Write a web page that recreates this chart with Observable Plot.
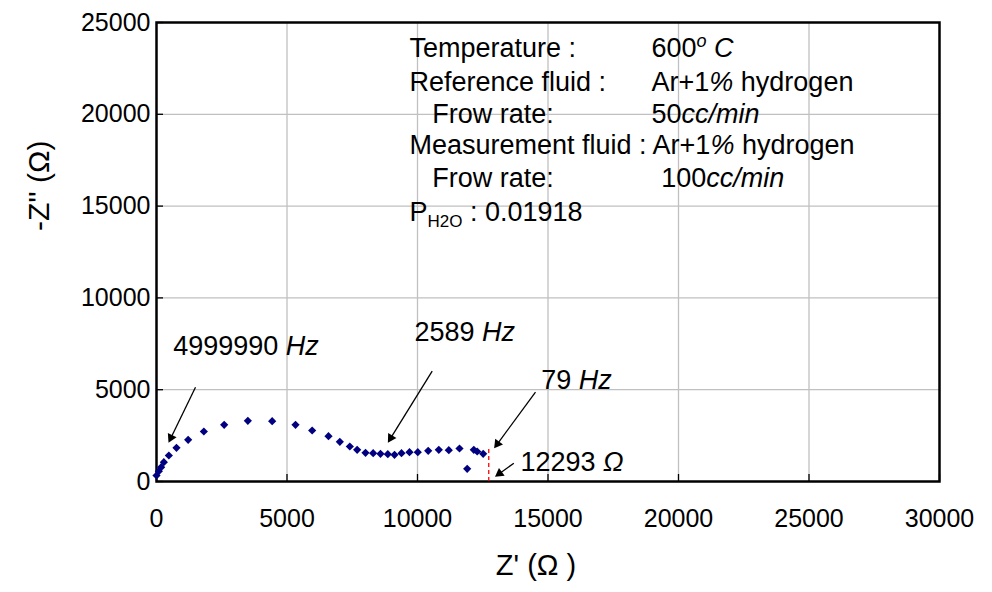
<!DOCTYPE html>
<html><head><meta charset="utf-8">
<script src="https://cdn.jsdelivr.net/npm/d3@7"></script>
<script src="https://cdn.jsdelivr.net/npm/@observablehq/plot@0.6"></script>
<style>
body{margin:0;background:#fff}
#chart{width:992px;height:592px;overflow:hidden}
</style>
</head><body><div id="chart"></div>
<script>
// ---- data ----
const zReal = [0, 90, 179, 281, 473, 766, 1213, 1814, 2593, 3500, 4432, 5326, 5964, 6590, 7024,
  7407, 7688, 8008, 8302, 8582, 8862, 9119, 9387, 9693, 10011, 10410, 10816, 11199, 11609, 11904,
  12157, 12287, 12517];
const zImag = [327, 561, 781, 1053, 1416, 1833, 2269, 2723, 3087, 3305, 3287, 3087, 2778, 2469, 2161,
  1906, 1727, 1563, 1541, 1509, 1487, 1454, 1541, 1596, 1596, 1672, 1727, 1705, 1797, 692,
  1727, 1634, 1509];
const xTicks = [0, 5000, 10000, 15000, 20000, 25000, 30000];
const yTicks = [0, 5000, 10000, 15000, 20000, 25000];
const xTitle = "Z' (Ω )";
const yTitle = "-Z'' (Ω)";
const infoText = ["Temperature :", "600°C", "Reference fluid :", "Ar+1% hydrogen", "Frow rate:", "50cc/min",
  "Measurement fluid : Ar+1% hydrogen", "Frow rate:", "100cc/min", "PH2O : 0.01918"];
const infoX = [9693, 18966, 9693, 18966, 10563, 18966, 9693, 10563, 19337, 9693];
const infoY = [23383, 23383, 21564, 21564, 19821, 19821, 18133, 16302, 16302, 14488];
const freqText = ["4999990 Hz", "2589 Hz", "79 Hz", "12293 Ω"];
const freqX = [640, 9885, 14739, 13946];
const freqY = [6917, 7642, 5065, 599];
const arrowX1 = [1494, 10563, 14521, 13690];
const arrowY1 = [5136, 6008, 4864, 997];
const arrowX2 = [471, 8877, 12950, 12988];
const arrowY2 = [2141, 2141, 1836, 272];
const cutoffX = 12730, cutoffY = 1743;

// ---- layout ----
const W = 992, H = 592, mL = 156, mR = 53, mT = 22, mB = 111;
const plotW = W - mL - mR, plotH = H - mT - mB;
const xs = d3.scaleLinear([0, 30000], [mL, W - mR]);
const ys = d3.scaleLinear([0, 25000], [H - mB, mT]);

const points = zReal.map((x, i) => ({x, y: zImag[i]}));
const info = infoText.map((t, i) => ({t, x: infoX[i], y: infoY[i]}));
const freq = freqText.map((t, i) => ({t, x: freqX[i], y: freqY[i]}));
const arrows = arrowX1.map((x1, i) => {
  const px1 = xs(x1), py1 = ys(arrowY1[i]), px2 = xs(arrowX2[i]), py2 = ys(arrowY2[i]);
  const L = Math.hypot(px2 - px1, py2 - py1), ux = (px2 - px1) / L, uy = (py2 - py1) / L;
  const back = 5;
  return {x1, y1: arrowY1[i], hx: xs.invert(px2 - ux * back), hy: ys.invert(py2 - uy * back),
    angle: Math.atan2(ux, -uy) * 180 / Math.PI};
});

const F = "'Liberation Sans', Arial, sans-serif";
const plot = Plot.plot({
  width: W, height: H,
  marginLeft: mL, marginRight: mR, marginTop: mT, marginBottom: mB,
  style: {fontFamily: F, fontSize: "27px", background: "white", overflow: "visible"},
  x: {domain: [0, 30000]},
  y: {domain: [0, 25000]},
  marks: [
    Plot.ruleX(xTicks.slice(1, -1), {stroke: "#c0c0c0", strokeWidth: 1.3}),
    Plot.ruleY(yTicks.slice(1, -1), {stroke: "#c0c0c0", strokeWidth: 1.3}),
    Plot.tickX(xTicks, {insetTop: plotH - 7, stroke: "black", strokeWidth: 1.3}),
    Plot.tickY(yTicks, {insetRight: plotW - 7, stroke: "black", strokeWidth: 1.3}),
    Plot.axisX({ticks: xTicks, tickSize: 0, tickPadding: 28, tickFormat: d => String(d), label: null,
      fontSize: 25, fill: "black"}),
    Plot.axisY({ticks: yTicks, tickSize: 0, tickPadding: 6, tickFormat: d => String(d), label: null,
      fontSize: 25, fill: "black"}),
    Plot.frame({stroke: "black", strokeWidth: 2.5}),
    Plot.ruleX([cutoffX], {y1: 0, y2: cutoffY, stroke: "red", strokeWidth: 1.3, strokeDasharray: "4,3"}),
    Plot.dot(points, {x: "x", y: "y", symbol: "diamond2", r: 3.7, fill: "#000080", stroke: null}),
    Plot.link(arrows, {x1: "x1", y1: "y1", x2: "hx", y2: "hy", stroke: "black", strokeWidth: 1.3}),
    Plot.dot(arrows, {x: "hx", y: "hy", symbol: "triangle", rotate: "angle", r: 3.6, fill: "black", stroke: null}),
    Plot.text(info, {x: "x", y: "y", text: "t", textAnchor: "start", lineAnchor: "bottom", dy: 5, fontSize: 27, fill: "black"}),
    Plot.text(freq, {x: "x", y: "y", text: "t", textAnchor: "start", lineAnchor: "bottom", fontSize: 27, fill: "black"}),
    Plot.text([yTitle], {frameAnchor: "left", text: d => d, rotate: -90, dx: -117, dy: -21, fontSize: 30, fill: "black"}),
    Plot.text([xTitle], {frameAnchor: "bottom", text: d => d, dx: -12, dy: 93, fontSize: 29, fill: "black"})
  ]
});
document.getElementById("chart").appendChild(plot);

// ---- rich text (italics, super/subscripts) ----
const rich = {
  "600°C": [["600"], ["o", "sup"], [" C", "i"]],
  "Ar+1% hydrogen": [["Ar+1"], ["%", "i"], [" hydrogen"]],
  "Measurement fluid : Ar+1% hydrogen": [["Measurement fluid : Ar+1"], ["%", "i"], [" hydrogen"]],
  "50cc/min": [["50"], ["cc/min", "i"]],
  "100cc/min": [["100"], ["cc/min", "i"]],
  "PH2O : 0.01918": [["P"], ["H2O", "sub"], [" : 0.01918"]],
  "4999990 Hz": [["4999990 "], ["Hz", "i"]],
  "2589 Hz": [["2589 "], ["Hz", "i"]],
  "79 Hz": [["79 "], ["Hz", "i"]],
  "12293 Ω": [["12293 "], ["Ω", "i"]]
};
d3.select(plot).selectAll("text").each(function () {
  const segs = rich[this.textContent];
  if (!segs) return;
  const el = d3.select(this);
  el.text(null);
  let shift = 0;
  for (const [s, kind] of segs) {
    const ts = el.append("tspan").text(s);
    let target = 0;
    if (kind === "i") ts.attr("font-style", "italic");
    if (kind === "sup") { target = -10; ts.attr("font-size", 18).attr("font-style", "italic"); }
    if (kind === "sub") { target = 6; ts.attr("font-size", 17); }
    if (target !== shift) { ts.attr("dy", target - shift); shift = target; }
  }
});
</script>
</body></html>
